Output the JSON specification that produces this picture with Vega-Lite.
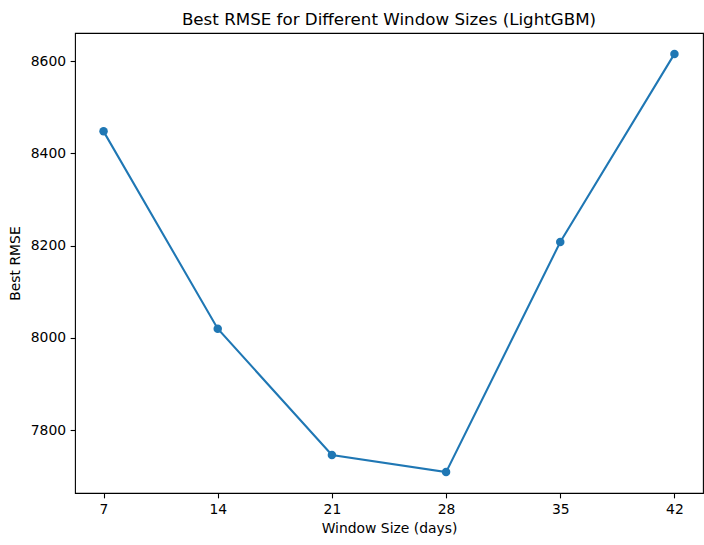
{
  "$schema": "https://vega.github.io/schema/vega-lite/v6.json",
  "width": 628,
  "height": 460,
  "autosize": {"type": "none"},
  "padding": {"left": 75, "top": 33, "right": 1, "bottom": 52},
  "title": {
    "text": "Best RMSE for Different Window Sizes (LightGBM)",
    "font": "DejaVu Sans",
    "fontSize": 16.7,
    "fontWeight": "normal",
    "color": "black",
    "baseline": "alphabetic",
    "offset": 8,
    "dy": 17,
    "frame": "group"
  },
  "config": {
    "view": {"stroke": "black", "strokeWidth": 1.1},
    "axis": {
      "grid": false,
      "domain": false,
      "tickColor": "black",
      "tickSize": 4.86,
      "tickWidth": 1.1,
      "labelFont": "DejaVu Sans",
      "labelFontSize": 13.9,
      "labelColor": "black",
      "labelPadding": 4.5,
      "titleFont": "DejaVu Sans",
      "titleFontSize": 13.9,
      "titleFontWeight": "normal",
      "titleColor": "black"
    }
  },
  "data": {
    "values": [
      {"window": 7, "rmse": 8448},
      {"window": 14, "rmse": 8020},
      {"window": 21, "rmse": 7746},
      {"window": 28, "rmse": 7709},
      {"window": 35, "rmse": 8208},
      {"window": 42, "rmse": 8616}
    ]
  },
  "encoding": {
    "x": {
      "field": "window",
      "type": "quantitative",
      "scale": {"domain": [5.25, 43.75], "nice": false, "zero": false},
      "axis": {"values": [7, 14, 21, 28, 35, 42], "title": "Window Size (days)", "titlePadding": 5, "labelFlush": false}
    },
    "y": {
      "field": "rmse",
      "type": "quantitative",
      "scale": {"domain": [7663.65, 8661.35], "nice": false, "zero": false},
      "axis": {"values": [7800, 8000, 8200, 8400, 8600], "title": "Best RMSE", "titlePadding": 8, "labelFlush": false, "format": "d"}
    }
  },
  "layer": [
    {"mark": {"type": "line", "color": "#1f77b4", "strokeWidth": 2.08}},
    {"mark": {"type": "point", "filled": true, "opacity": 1, "color": "#1f77b4", "size": 72}}
  ]
}
